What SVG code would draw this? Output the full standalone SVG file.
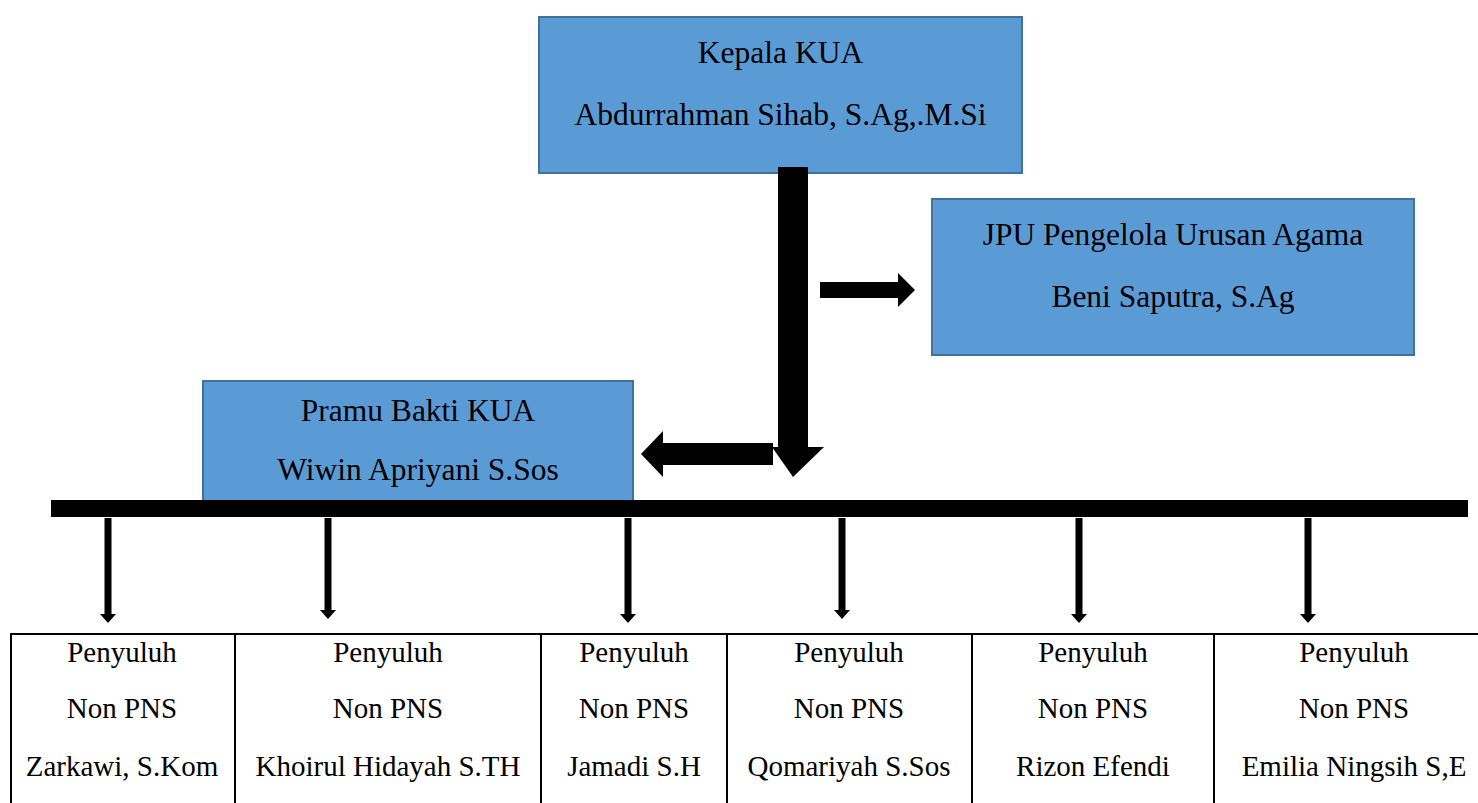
<svg xmlns="http://www.w3.org/2000/svg" width="1478" height="803" viewBox="0 0 1478 803">
<style>
.box{fill:#5B9BD5;stroke:#41719C;stroke-width:2}
.t{font-family:"Liberation Serif","Times New Roman",serif;fill:#000;text-anchor:middle}
.big{font-size:31.5px}
.sm{font-size:29px}
.cell{fill:none;stroke:#000;stroke-width:2}
.blk{fill:#000}
</style>
<rect width="1478" height="803" fill="#fff"/>
<g id="kepala">
<rect class="box" x="539" y="17" width="483" height="156"/>
<text class="t big" x="780.5" y="63">Kepala KUA</text>
<text class="t big" x="780.5" y="125">Abdurrahman Sihab, S.Ag,.M.Si</text>
</g>
<g id="jpu">
<rect class="box" x="932" y="199" width="482" height="156"/>
<text class="t big" x="1173" y="245">JPU Pengelola Urusan Agama</text>
<text class="t big" x="1173" y="307">Beni Saputra, S.Ag</text>
</g>
<g id="pramu">
<rect class="box" x="203" y="381" width="430" height="125"/>
<text class="t big" x="418" y="421">Pramu Bakti KUA</text>
<text class="t big" x="418" y="480">Wiwin Apriyani S.Sos</text>
</g>
<g id="connectors">
<polygon class="blk" points="778,167 808,167 808,447 824,447 793,477 772,447 778,447"/>
<polygon class="blk" points="820,282 898,282 898,273 915,290 898,307 898,298 820,298"/>
<polygon class="blk" points="773,443 663,443 663,431 641,454 663,477 663,465 773,465"/>
<rect class="blk" x="51" y="500" width="1417" height="17"/>
<g id="small-arrows">
<polygon class="blk" points="104.5,518 111.5,518 111.5,614 116,614 108,623 100,614 104.5,614"/>
<polygon class="blk" points="324.5,518 331.5,518 331.5,610 336,610 328,619 320,610 324.5,610"/>
<polygon class="blk" points="624.5,518 631.5,518 631.5,614 636,614 628,623 620,614 624.5,614"/>
<polygon class="blk" points="838.5,518 845.5,518 845.5,610 850,610 842,619 834,610 838.5,610"/>
<polygon class="blk" points="1075.5,518 1082.5,518 1082.5,614 1087,614 1079,623 1071,614 1075.5,614"/>
<polygon class="blk" points="1304.5,518 1311.5,518 1311.5,614 1316,614 1308,623 1300,614 1304.5,614"/>
</g>
</g>
<g id="table">
<line class="cell" x1="10" y1="634" x2="1478" y2="634"/>
<line class="cell" x1="11" y1="633" x2="11" y2="803"/>
<line class="cell" x1="235" y1="633" x2="235" y2="803"/>
<line class="cell" x1="541" y1="633" x2="541" y2="803"/>
<line class="cell" x1="727" y1="633" x2="727" y2="803"/>
<line class="cell" x1="972" y1="633" x2="972" y2="803"/>
<line class="cell" x1="1214" y1="633" x2="1214" y2="803"/>
</g>
<g id="p1">
<text class="t sm" x="122" y="662">Penyuluh</text>
<text class="t sm" x="122" y="718">Non PNS</text>
<text class="t sm" x="122" y="776">Zarkawi, S.Kom</text>
</g>
<g id="p2">
<text class="t sm" x="388" y="662">Penyuluh</text>
<text class="t sm" x="388" y="718">Non PNS</text>
<text class="t sm" x="388" y="776">Khoirul Hidayah S.TH</text>
</g>
<g id="p3">
<text class="t sm" x="634" y="662">Penyuluh</text>
<text class="t sm" x="634" y="718">Non PNS</text>
<text class="t sm" x="634" y="776">Jamadi S.H</text>
</g>
<g id="p4">
<text class="t sm" x="849" y="662">Penyuluh</text>
<text class="t sm" x="849" y="718">Non PNS</text>
<text class="t sm" x="849" y="776">Qomariyah S.Sos</text>
</g>
<g id="p5">
<text class="t sm" x="1093" y="662">Penyuluh</text>
<text class="t sm" x="1093" y="718">Non PNS</text>
<text class="t sm" x="1093" y="776">Rizon Efendi</text>
</g>
<g id="p6">
<text class="t sm" x="1354" y="662">Penyuluh</text>
<text class="t sm" x="1354" y="718">Non PNS</text>
<text class="t sm" x="1354" y="776">Emilia Ningsih S,E</text>
</g>
</svg>
